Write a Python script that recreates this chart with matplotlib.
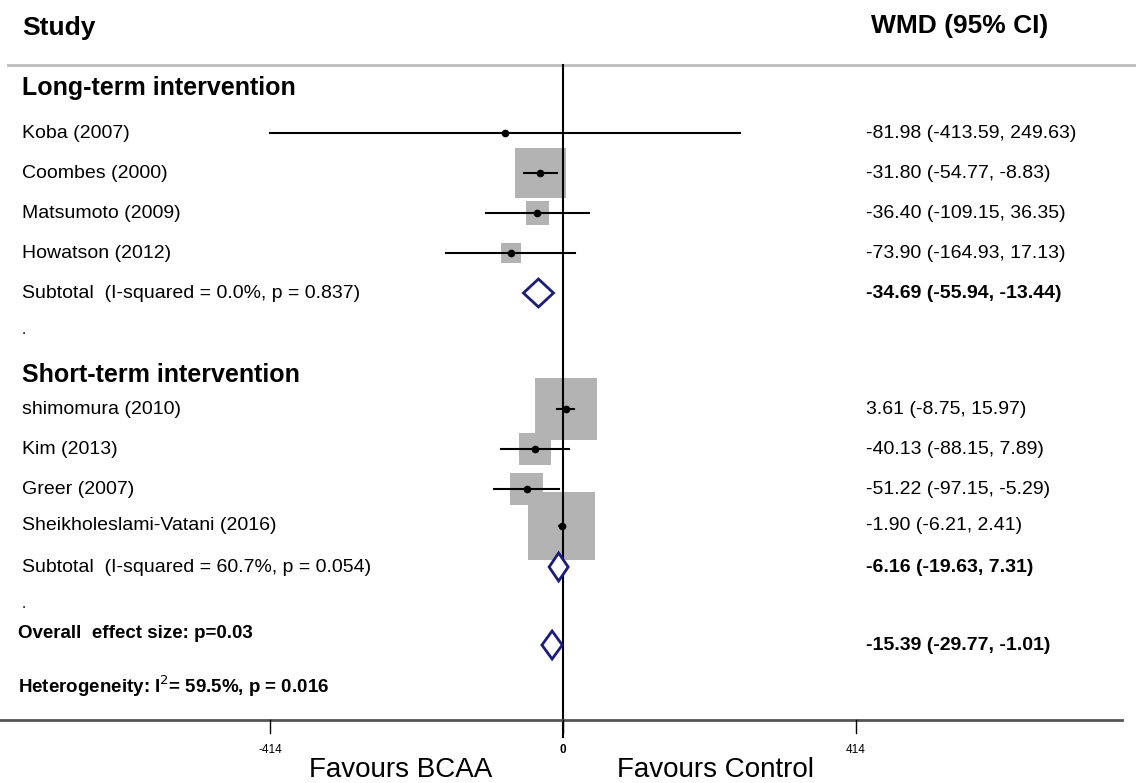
import matplotlib.pyplot as plt
import numpy as np
from matplotlib.patches import Rectangle, Polygon
from matplotlib.transforms import blended_transform_factory

plt.rcParams['font.family'] = ['Liberation Sans', 'DejaVu Sans']

# --- data ---
long_studies = ['Koba (2007)', 'Coombes (2000)', 'Matsumoto (2009)', 'Howatson (2012)']
long_wmd = [-81.98, -31.80, -36.40, -73.90]
long_lo = [-413.59, -54.77, -109.15, -164.93]
long_hi = [249.63, -8.83, 36.35, 17.13]
long_weight = [0.1, 18.0, 3.8, 2.9]

short_studies = ['shimomura (2010)', 'Kim (2013)', 'Greer (2007)', 'Sheikholeslami-Vatani (2016)']
short_wmd = [3.61, -40.13, -51.22, -1.90]
short_lo = [-8.75, -88.15, -97.15, -6.21]
short_hi = [15.97, 7.89, -5.29, 2.41]
short_weight = [27.7, 7.4, 7.8, 32.3]

subtotal_labels = ['Subtotal  (I-squared = 0.0%, p = 0.837)',
                   'Subtotal  (I-squared = 60.7%, p = 0.054)']
subtotal_wmd = [-34.69, -6.16]
subtotal_lo = [-55.94, -19.63]
subtotal_hi = [-13.44, 7.31]

overall_wmd, overall_lo, overall_hi = -15.39, -29.77, -1.01

tick_values = [-414, 0, 414]

# --- layout (pixel space) ---
W, H = 1136, 783
PX_PER_UNIT = 293 / 414.0
X0 = 563  # pixel x of zero
fig = plt.figure(figsize=(W / 100, H / 100), dpi=100)
ax = fig.add_axes([0, 0, 1, 1])
ax.set_xlim(-X0 / PX_PER_UNIT, (W - X0) / PX_PER_UNIT)
ax.set_ylim(H, 0)
ax.axis('off')
tr = blended_transform_factory(ax.transAxes, ax.transData)

LX = 22 / W
RX = 866 / W
FS = 14
DIAMOND_COLOR = '#1c1c7c'


def fmt(e, lo, hi):
    return f'{e:.2f} ({lo:.2f}, {hi:.2f})'


def draw_study(y, name, e, lo, hi, w):
    side_px = 11.8 * np.sqrt(w)
    side = side_px / PX_PER_UNIT
    ax.add_patch(Rectangle((e - side / 2, y - side_px / 2), side, side_px,
                           facecolor='#b3b3b3', edgecolor='none', zorder=1))
    ax.plot([lo, hi], [y, y], color='black', lw=1.5, zorder=3)
    ax.plot(e, y, 'o', color='black', ms=4.5, zorder=4)
    ax.text(LX, y, name, transform=tr, fontsize=FS, va='center')
    ax.text(RX, y, fmt(e, lo, hi), transform=tr, fontsize=FS, va='center')


def draw_diamond(y, e, lo, hi, label=None):
    h = 14
    ax.add_patch(Polygon([[lo, y], [e, y - h], [hi, y], [e, y + h]], closed=True,
                         facecolor='white', edgecolor=DIAMOND_COLOR, lw=2, zorder=5))
    if label:
        ax.text(LX, y, label, transform=tr, fontsize=FS, va='center')
    ax.text(RX, y, fmt(e, lo, hi), transform=tr, fontsize=FS, va='center',
            fontweight='bold')


# headers
ax.text(LX, 28, 'Study', transform=tr, fontsize=19, fontweight='bold', va='center')
ax.text(871 / W, 26, 'WMD (95% CI)', transform=tr, fontsize=19, fontweight='bold', va='center')
ax.plot([(8 - X0) / PX_PER_UNIT, (W - X0) / PX_PER_UNIT], [65, 65],
        color='#bdbdbd', lw=2, zorder=2)

# zero line
ax.plot([0, 0], [65, 737], color='black', lw=1.5, zorder=2)

# long-term
ax.text(LX, 88, 'Long-term intervention', transform=tr, fontsize=18,
        fontweight='bold', va='center')
long_y = [133, 173, 213, 253]
for i in range(len(long_studies)):
    draw_study(long_y[i], long_studies[i], long_wmd[i], long_lo[i], long_hi[i], long_weight[i])
draw_diamond(293, subtotal_wmd[0], subtotal_lo[0], subtotal_hi[0], subtotal_labels[0])
ax.text(LX, 330, '.', transform=tr, fontsize=11, va='center')

# short-term
ax.text(LX, 375, 'Short-term intervention', transform=tr, fontsize=18,
        fontweight='bold', va='center')
short_y = [409, 449, 489, 526]
for i in range(len(short_studies)):
    draw_study(short_y[i], short_studies[i], short_wmd[i], short_lo[i], short_hi[i], short_weight[i])
draw_diamond(567, subtotal_wmd[1], subtotal_lo[1], subtotal_hi[1], subtotal_labels[1])
ax.text(LX, 604, '.', transform=tr, fontsize=11, va='center')

# overall
draw_diamond(645, overall_wmd, overall_lo, overall_hi)
ax.text(18 / W, 633, 'Overall  effect size: p=0.03', transform=tr, fontsize=13.5,
        fontweight='bold', va='center')
ax.text(18 / W, 686, 'Heterogeneity: I$^2$= 59.5%, p = 0.016', transform=tr, fontsize=13.5,
        fontweight='bold', va='center')

# x axis
ax.plot([-X0 / PX_PER_UNIT, (1122 - X0) / PX_PER_UNIT], [720, 720],
        color='#555555', lw=2, zorder=2)
for t in tick_values:
    ax.plot([t, t], [720, 733], color='black', lw=1, zorder=2)
    ax.text(t, 750, f'{t}', fontsize=8.5, ha='center', va='center',
            fontweight='bold' if t == 0 else 'normal')
ax.text(-230, 770, 'Favours BCAA', fontsize=20, ha='center', va='center')
ax.text(215, 770, 'Favours Control', fontsize=20, ha='center', va='center')

fig.savefig('out.png', dpi=100)
